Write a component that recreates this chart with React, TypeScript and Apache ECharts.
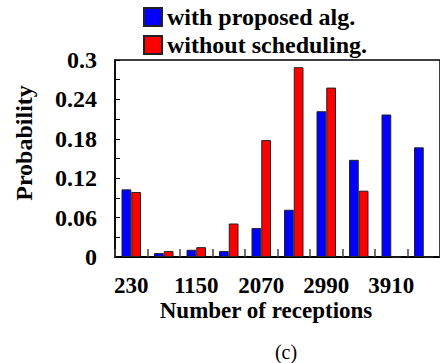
import React, { useEffect, useRef } from "react";
import * as echarts from "echarts";

const categories = ["230", "690", "1150", "1610", "2070", "2530", "2990", "3450", "3910", "4370"];
const withProposed = [0.103, 0.006, 0.011, 0.009, 0.044, 0.072, 0.222, 0.148, 0.217, 0.167];
const withoutScheduling = [0.099, 0.009, 0.015, 0.051, 0.178, 0.289, 0.258, 0.101, 0, 0];
const yTickLabels = ["0", "0.06", "0.12", "0.18", "0.24", "0.3"];
const seriesNames = ["with proposed alg.", "without scheduling."];

const FONT = "Liberation Serif";

export default function App() {
  const ref = useRef<HTMLDivElement>(null);
  useEffect(() => {
    if (!ref.current) return;
    const chart = echarts.init(ref.current, null, { renderer: "svg" });
    chart.setOption({
      animation: false,
      backgroundColor: "#fff",
      textStyle: { fontFamily: FONT },
      legend: {
        orient: "vertical",
        left: 143,
        top: 5,
        padding: 0,
        itemGap: 4,
        itemWidth: 18,
        itemHeight: 18,
        icon: "rect",
        textStyle: { fontFamily: FONT, fontWeight: "bold", fontSize: 24, color: "#000" },
        data: seriesNames,
      },
      grid: {
        left: 115,
        top: 60,
        width: 333,
        height: 197,
        show: true,
        borderColor: "#000",
        borderWidth: 1.5,
        containLabel: false,
      },
      xAxis: {
        type: "category",
        data: categories,
        axisLine: { show: true, lineStyle: { color: "#000", width: 2 } },
        axisTick: { show: true, inside: true, length: 8, interval: 0, alignWithLabel: false, lineStyle: { color: "#444", width: 1.5 } },
        axisLabel: { interval: 1, margin: 17, fontFamily: FONT, fontWeight: "bold", fontSize: 23, lineHeight: 22, color: "#000" },
        splitLine: { show: false },
      },
      yAxis: {
        type: "value",
        min: 0,
        max: 0.3,
        interval: 0.03,
        axisLine: { show: true, lineStyle: { color: "#000", width: 1.5 } },
        axisTick: { show: true, inside: true, length: 5, lineStyle: { color: "#000", width: 1 } },
        splitLine: { show: false },
        axisLabel: {
          margin: 18,
          fontFamily: FONT,
          fontWeight: "bold",
          fontSize: 24,
          color: "#000",
          formatter: (v: number) => {
            const k = Math.round(v / 0.03);
            return k % 2 === 0 ? yTickLabels[k / 2] : "";
          },
        },
      },
      series: [
        {
          name: seriesNames[0],
          type: "bar",
          data: withProposed,
          barGap: "0%",
          barCategoryGap: "40%",
          itemStyle: { color: "#0000ff", borderColor: "#222", borderWidth: 1 },
        },
        {
          name: seriesNames[1],
          type: "bar",
          data: withoutScheduling,
          barGap: "0%",
          barCategoryGap: "40%",
          itemStyle: { color: "#ff0000", borderColor: "#222", borderWidth: 1 },
        },
      ],
      graphic: [
        {
          type: "text",
          x: 24,
          y: 143,
          rotation: Math.PI / 2,
          style: {
            text: "Probability",
            fontFamily: FONT,
            fontWeight: "bold",
            fontSize: 24,
            fill: "#000",
            textAlign: "center",
            textVerticalAlign: "middle",
          },
        },
        {
          type: "text",
          x: 266,
          y: 310,
          style: {
            text: "Number of receptions",
            fontFamily: FONT,
            fontWeight: "bold",
            fontSize: 23,
            lineHeight: 22,
            fill: "#000",
            textAlign: "center",
            textVerticalAlign: "middle",
          },
        },
        {
          type: "text",
          x: 286,
          y: 352,
          style: {
            text: "(c)",
            fontFamily: FONT,
            fontSize: 20,
            fill: "#000",
            textAlign: "center",
            textVerticalAlign: "middle",
          },
        },
      ],
    });
    return () => chart.dispose();
  }, []);
  return (
    <div
      ref={ref}
      style={{ position: "absolute", left: 0, top: 0, width: 440, height: 363, overflow: "hidden" }}
    />
  );
}
